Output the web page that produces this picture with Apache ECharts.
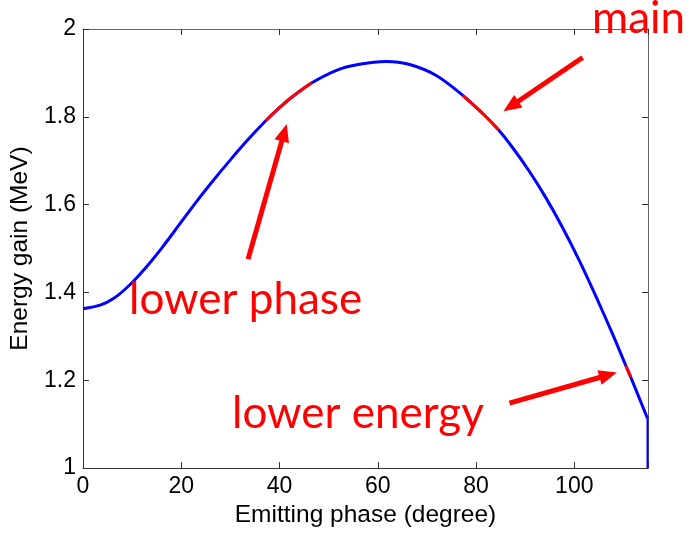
<!DOCTYPE html>
<html>
<head>
<meta charset="utf-8">
<script src="https://cdn.jsdelivr.net/npm/echarts@6/dist/echarts.min.js"></script>
<style>
  html, body { margin: 0; padding: 0; background: #fff; }
  #chart { width: 691px; height: 533px; }
</style>
</head>
<body>
<div id="chart"></div>
<script>
// Emitting phase (degree) and the energy gain (MeV) reached at that phase
const phase = [0, 3.5, 6.2, 9.5, 12.9, 16.3, 19.7, 23.1, 26.5, 30, 33.5, 37.2, 40, 43, 46.5,
  51.6, 56, 61.7, 66.5, 71.9, 77.3, 81.4, 84.6, 87.5, 90.9, 94.2, 97.6, 101, 104.4, 107.8,
  110.5, 111.5, 114.9];
const energy = [1.363, 1.371, 1.386, 1.417, 1.458, 1.505, 1.556, 1.607, 1.655, 1.702, 1.747,
  1.791, 1.821, 1.849, 1.877, 1.906, 1.919, 1.926, 1.919, 1.894, 1.849, 1.807, 1.770, 1.729,
  1.675, 1.616, 1.548, 1.473, 1.391, 1.305, 1.233, 1.207, 1.113];

// cut-off: the curve drops straight to the floor at the last phase
const cutoffEnergy = 1.0;

// highlighted phase windows, as [first, last] point indices into the arrays above
const lowerPhaseRange = [11, 14];
const mainRange = [20, 22];
const lowerEnergyRange = [30, 31];

const xTicks = [0, 20, 40, 60, 80, 100];
const yTicks = [1, 1.2, 1.4, 1.6, 1.8, 2];

// annotation arrows: [tail, head] in phase / energy units
const arrows = [
  [[33.6, 1.476], [40.96, 1.764]],
  [[101.7, 1.935], [87.1, 1.824]],
  [[86.8, 1.148], [106.9, 1.212]]
];

const points = phase.map((p, i) => [p, energy[i]]);
const slice = r => points.slice(r[0], r[1] + 1);
const last = points[points.length - 1];
const dropPoints = [last, [last[0], cutoffEnergy]];

const axisFont = { fontFamily: 'Liberation Sans, Arial, sans-serif', fontSize: 23, color: '#000' };
const nameFont = { fontFamily: 'Liberation Sans, Arial, sans-serif', fontSize: 24.5, color: '#000' };
const noteFont = '44px Lato, Carlito, sans-serif';

const chart = echarts.init(document.getElementById('chart'), null, { renderer: 'canvas' });

const baseX = {
  type: 'value', min: 0, max: 115, interval: 20,
  splitLine: { show: false },
  axisLine: { show: true, onZero: false, lineStyle: { color: '#333', width: 1 } },
  axisTick: { show: true, inside: true, length: 6, lineStyle: { color: '#333' } }
};
const baseY = {
  type: 'value', min: 1, max: 2, interval: 0.2,
  splitLine: { show: false },
  axisLine: { show: true, onZero: false, lineStyle: { color: '#333', width: 1 } },
  axisTick: { show: true, inside: true, length: 6, lineStyle: { color: '#333' } }
};

const curve = (name, data, color, z) => ({
  name, type: 'line', data, smooth: 0.3, symbol: 'none', silent: true, z,
  lineStyle: { color, width: 3 }
});

chart.setOption({
  animation: false,
  backgroundColor: '#fff',
  grid: { left: 83, right: 43, top: 29, bottom: 60 },
  xAxis: [
    Object.assign({}, baseX, {
      position: 'bottom',
      name: 'Emitting phase (degree)', nameLocation: 'middle', nameGap: 33,
      nameTextStyle: nameFont,
      axisLabel: Object.assign({ margin: 7, formatter: v => (xTicks.includes(v) ? String(v) : '') }, axisFont)
    }),
    Object.assign({}, baseX, {
      position: 'top',
      axisLine: { show: true, onZero: false, lineStyle: { color: '#666', width: 1 } },
      axisLabel: { show: false }
    })
  ],
  yAxis: [
    Object.assign({}, baseY, {
      position: 'left',
      name: 'Energy gain (MeV)', nameLocation: 'middle', nameGap: 48,
      nameTextStyle: nameFont,
      axisLabel: Object.assign({
        margin: 7,
        formatter: v => {
          const t = yTicks.find(y => Math.abs(y - v) < 1e-6);
          return t === undefined ? '' : String(t);
        }
      }, axisFont)
    }),
    Object.assign({}, baseY, {
      position: 'right',
      axisLine: { show: true, onZero: false, lineStyle: { color: '#666', width: 1 } },
      axisLabel: { show: false }
    })
  ],
  series: [
    curve('Energy gain', points, '#0000ff', 2),
    {
      name: 'cut-off', type: 'line', data: dropPoints, symbol: 'none', z: 2, silent: true,
      lineStyle: { color: '#0000ff', width: 2 }
    },
    curve('lower phase', slice(lowerPhaseRange), '#ff0000', 3),
    curve('main', slice(mainRange), '#ff0000', 3),
    curve('lower energy', slice(lowerEnergyRange), '#ff0000', 3),
    {
      name: 'arrows', type: 'line', data: [], silent: true, z: 4,
      markLine: {
        silent: true,
        symbol: ['none', 'triangle'],
        symbolSize: [15, 18],
        label: { show: false },
        lineStyle: { color: '#ff0000', width: 5, type: 'solid' },
        emphasis: { disabled: true },
        data: arrows.map(a => [{ coord: a[0] }, { coord: a[1] }])
      }
    }
  ],
  graphic: [
    { type: 'text', left: 129, top: 278, z: 10, style: { text: 'lower phase', font: noteFont, fill: '#ff0000' } },
    { type: 'text', left: 232, top: 392, z: 10, style: { text: 'lower energy', font: noteFont, fill: '#ff0000' } },
    { type: 'text', left: 592, top: -3, z: 10, style: { text: 'main', font: noteFont, fill: '#ff0000' } }
  ]
});
</script>
</body>
</html>
